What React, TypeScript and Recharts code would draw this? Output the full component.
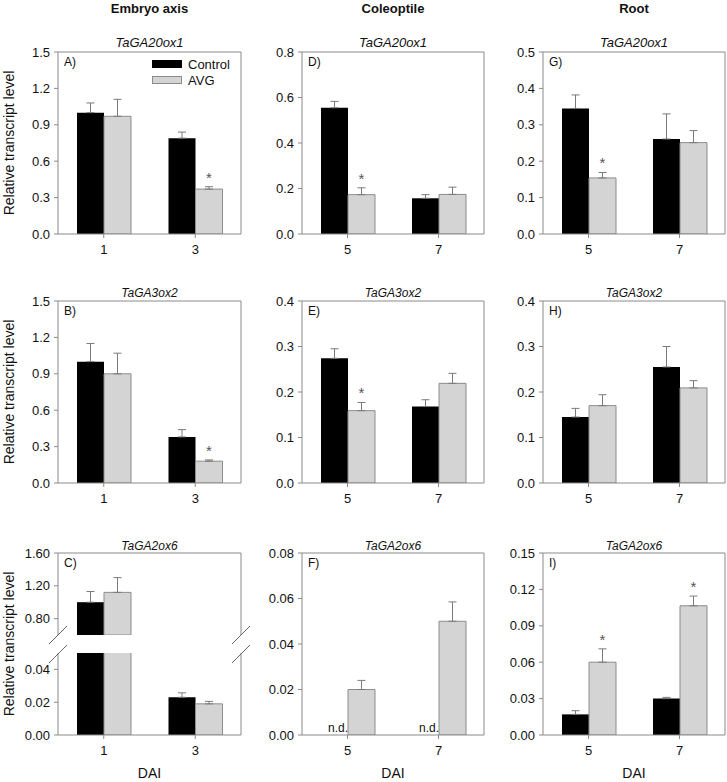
import React from "react";
import {
  Bar,
  BarChart,
  ErrorBar,
  LabelList,
  Legend,
  XAxis,
  YAxis,
} from "recharts";

const FONT = "'Liberation Sans', Arial, sans-serif";
const AXIS = "#8a8a8a";
const AVG_FILL = "#d4d4d4";
const AVG_STROKE = "#8c8c8c";
const ERR = "#7a7a7a";

// days after imbibition
const DAI_EMBRYO = ["1", "3"];
const DAI_SEEDLING = ["5", "7"];

// A) embryo axis - TaGA20ox1
const A_CONTROL = [1.0, 0.79];
const A_CONTROL_SE = [0.08, 0.05];
const A_AVG = [0.97, 0.37];
const A_AVG_SE = [0.14, 0.02];
const A_SIG = ["", "*"];

// B) embryo axis - TaGA3ox2
const B_CONTROL = [1.0, 0.38];
const B_CONTROL_SE = [0.15, 0.06];
const B_AVG = [0.9, 0.18];
const B_AVG_SE = [0.17, 0.01];
const B_SIG = ["", "*"];

// C) embryo axis - TaGA2ox6 (broken axis)
const C_CONTROL = [1.0, 0.023];
const C_CONTROL_SE = [0.13, 0.0027];
const C_AVG = [1.12, 0.019];
const C_AVG_SE = [0.18, 0.0015];
const C_SIG = ["", ""];

// D) coleoptile - TaGA20ox1
const D_CONTROL = [0.555, 0.157];
const D_CONTROL_SE = [0.028, 0.016];
const D_AVG = [0.173, 0.174];
const D_AVG_SE = [0.03, 0.032];
const D_SIG = ["*", ""];

// E) coleoptile - TaGA3ox2
const E_CONTROL = [0.274, 0.168];
const E_CONTROL_SE = [0.021, 0.015];
const E_AVG = [0.159, 0.219];
const E_AVG_SE = [0.018, 0.022];
const E_SIG = ["*", ""];

// F) coleoptile - TaGA2ox6 (control not detected)
const F_CONTROL = [0, 0];
const F_CONTROL_SE = [0, 0];
const F_AVG = [0.02, 0.05];
const F_AVG_SE = [0.004, 0.0085];
const F_SIG = ["", ""];
const F_ND = [true, true];

// G) root - TaGA20ox1
const G_CONTROL = [0.345, 0.261];
const G_CONTROL_SE = [0.037, 0.069];
const G_AVG = [0.154, 0.251];
const G_AVG_SE = [0.015, 0.033];
const G_SIG = ["*", ""];

// H) root - TaGA3ox2
const H_CONTROL = [0.145, 0.255];
const H_CONTROL_SE = [0.019, 0.045];
const H_AVG = [0.17, 0.209];
const H_AVG_SE = [0.024, 0.016];
const H_SIG = ["", ""];

// I) root - TaGA2ox6
const I_CONTROL = [0.017, 0.03];
const I_CONTROL_SE = [0.003, 0.001];
const I_AVG = [0.06, 0.1065];
const I_AVG_SE = [0.011, 0.008];
const I_SIG = ["*", "*"];

// y tick labels
const TICKS_EMBRYO = [0, 0.3, 0.6, 0.9, 1.2, 1.5];
const TICKS_C_HIGH = [0.8, 1.2, 1.6];
const TICKS_C_LOW = [0, 0.02, 0.04];
const TICKS_D = [0, 0.2, 0.4, 0.6, 0.8];
const TICKS_EH = [0, 0.1, 0.2, 0.3, 0.4];
const TICKS_F = [0, 0.02, 0.04, 0.06, 0.08];
const TICKS_G = [0, 0.1, 0.2, 0.3, 0.4, 0.5];
const TICKS_I = [0, 0.03, 0.06, 0.09, 0.12, 0.15];

const SERIES = ["Control", "AVG"];
const COLUMNS = ["Embryo axis", "Coleoptile", "Root"];
const GENES = ["TaGA20ox1", "TaGA3ox2", "TaGA2ox6"];
const LETTERS = [
  ["A)", "D)", "G)"],
  ["B)", "E)", "H)"],
  ["C)", "F)", "I)"],
];

// layout
const COL_LEFT = [58, 302, 543];
const COL_W = [183, 182, 182];
const ROW_TOP = [52, 301, 553];
const PLOT_H = 182;
const ML = 50;
const MT = 10;
const XH = 30;

const tickStyle = { fill: "#111", fontSize: 13, fontFamily: FONT };

function readBox(props: any) {
  const box = props.viewBox ?? props;
  return {
    x: Number(box.x ?? props.x),
    y: Number(box.y ?? props.y),
    w: Number(box.width ?? props.width),
    h: Number(box.height ?? props.height),
  };
}

function starLabel(rows: any[]) {
  return (props: any) => {
    const row = rows[props.index];
    if (!row || !row.sig || !row.avg) return null;
    const { x, y, w, h } = readBox(props);
    const se = row.avgSe ? row.avgSe[1] : 0;
    const top = y - (se * h) / row.avg;
    return (
      <text
        x={x + w / 2}
        y={top - 4}
        textAnchor="middle"
        fontSize={15}
        fill="#555"
        fontFamily={FONT}
      >
        {row.sig}
      </text>
    );
  };
}

// "n.d." sits at the foot of the missing control bar, right next to the AVG bar
function ndLabel(rows: any[]) {
  return (props: any) => {
    const row = rows[props.index];
    if (!row || !row.nd) return null;
    const { x, y, h } = readBox(props);
    return (
      <text
        x={x}
        y={y + h - 3}
        textAnchor="end"
        fontSize={12}
        fill="#111"
        fontFamily={FONT}
      >
        n.d.
      </text>
    );
  };
}

function legendContent({ payload }: any) {
  const items = [...(payload || [])].sort(
    (a: any, b: any) => SERIES.indexOf(a.value) - SERIES.indexOf(b.value)
  );
  return (
    <div style={{ fontFamily: FONT, fontSize: 13, color: "#111" }}>
      {items.map((e: any) => (
        <div
          key={e.value}
          style={{ display: "flex", alignItems: "center", height: 16 }}
        >
          <span
            style={{
              display: "inline-block",
              boxSizing: "border-box",
              width: 30,
              height: 8,
              background: e.color,
              border: e.value === "AVG" ? `1px solid ${AVG_STROKE}` : "none",
              marginRight: 6,
            }}
          />
          {e.value}
        </div>
      ))}
    </div>
  );
}

interface PanelProps {
  cats: string[];
  control: number[];
  controlSe: number[];
  avg: number[];
  avgSe: number[];
  sig: string[];
  nd?: boolean[];
  domain: [number, number];
  ticks: number[];
  decimals: number;
  left: number;
  top: number;
  width: number;
  height: number;
  showX?: boolean;
  frameTop?: boolean;
  legend?: boolean;
}

function Panel(p: PanelProps) {
  const [lo, hi] = p.domain;
  const inside = (v: number) => v >= lo && v <= hi;
  const rows = p.cats.map((day, i) => ({
    day,
    control: p.control[i] >= lo ? p.control[i] : null,
    avg: p.avg[i] >= lo ? p.avg[i] : null,
    controlSe:
      inside(p.control[i]) && p.controlSe[i] > 0 ? [0, p.controlSe[i]] : null,
    avgSe: inside(p.avg[i]) && p.avgSe[i] > 0 ? [0, p.avgSe[i]] : null,
    sig: p.sig[i],
    nd: p.nd ? p.nd[i] : false,
  }));

  const showX = p.showX !== false;
  const frameTop = p.frameTop !== false;
  const xh = showX ? XH : 0;

  return (
    <div style={{ position: "absolute", left: p.left - ML, top: p.top - MT }}>
      <BarChart
        width={ML + p.width + 6}
        height={MT + p.height + xh + (showX ? 0 : 2)}
        data={rows}
        margin={{ top: frameTop ? 0 : MT, right: 0, left: 0, bottom: showX ? 0 : 2 }}
        barGap={0}
        barSize={27}
      >
        <XAxis
          dataKey="day"
          height={xh}
          hide={!showX}
          interval={0}
          tickSize={4}
          tickMargin={7}
          stroke={AXIS}
          tick={tickStyle}
        />
        {frameTop && (
          <XAxis
            xAxisId="frame"
            orientation="top"
            dataKey="day"
            height={MT}
            tick={false}
            tickLine={false}
            axisLine={{ stroke: AXIS }}
          />
        )}
        <YAxis
          type="number"
          width={ML}
          domain={p.domain}
          ticks={p.ticks}
          interval={0}
          allowDataOverflow
          tickSize={4}
          tickMargin={4}
          stroke={AXIS}
          tick={tickStyle}
          tickFormatter={(v: number) => v.toFixed(p.decimals)}
        />
        <YAxis
          yAxisId="frame"
          orientation="right"
          width={6}
          domain={[0, 1]}
          tick={false}
          tickLine={false}
          axisLine={{ stroke: AXIS }}
        />
        {p.legend && (
          <Legend
            layout="vertical"
            align="center"
            verticalAlign="middle"
            wrapperStyle={{ left: 144, top: 14, width: "auto" }}
            content={legendContent}
          />
        )}
        <Bar
          dataKey="control"
          name="Control"
          fill="#000000"
          isAnimationActive={false}
        >
          <ErrorBar
            dataKey="controlSe"
            direction="y"
            width={4}
            stroke={ERR}
            strokeWidth={1}
          />
        </Bar>
        <Bar
          dataKey="avg"
          name="AVG"
          fill={AVG_FILL}
          stroke={AVG_STROKE}
          strokeWidth={1}
          isAnimationActive={false}
        >
          <ErrorBar
            dataKey="avgSe"
            direction="y"
            width={4}
            stroke={ERR}
            strokeWidth={1}
          />
          <LabelList dataKey="sig" content={starLabel(rows)} />
          {p.nd && <LabelList dataKey="nd" content={ndLabel(rows)} />}
        </Bar>
      </BarChart>
    </div>
  );
}

export default function App() {
  const breakY1 = 635;
  const breakY2 = 654;
  const slash = (cx: number, cy: number) => (
    <line
      key={`${cx}-${cy}`}
      x1={cx - 9}
      y1={cy + 9}
      x2={cx + 9}
      y2={cy - 9}
      stroke="#666"
      strokeWidth={1}
    />
  );

  return (
    <div
      style={{
        position: "absolute",
        left: 0,
        top: 0,
        width: 727,
        height: 782,
        background: "#fff",
      }}
    >
      {/* row 1 */}
      <Panel
        cats={DAI_EMBRYO}
        control={A_CONTROL}
        controlSe={A_CONTROL_SE}
        avg={A_AVG}
        avgSe={A_AVG_SE}
        sig={A_SIG}
        domain={[0, 1.5]}
        ticks={TICKS_EMBRYO}
        decimals={1}
        left={COL_LEFT[0]}
        top={ROW_TOP[0]}
        width={COL_W[0]}
        height={PLOT_H}
        legend
      />
      <Panel
        cats={DAI_SEEDLING}
        control={D_CONTROL}
        controlSe={D_CONTROL_SE}
        avg={D_AVG}
        avgSe={D_AVG_SE}
        sig={D_SIG}
        domain={[0, 0.8]}
        ticks={TICKS_D}
        decimals={1}
        left={COL_LEFT[1]}
        top={ROW_TOP[0]}
        width={COL_W[1]}
        height={PLOT_H}
      />
      <Panel
        cats={DAI_SEEDLING}
        control={G_CONTROL}
        controlSe={G_CONTROL_SE}
        avg={G_AVG}
        avgSe={G_AVG_SE}
        sig={G_SIG}
        domain={[0, 0.5]}
        ticks={TICKS_G}
        decimals={1}
        left={COL_LEFT[2]}
        top={ROW_TOP[0]}
        width={COL_W[2]}
        height={PLOT_H}
      />

      {/* row 2 */}
      <Panel
        cats={DAI_EMBRYO}
        control={B_CONTROL}
        controlSe={B_CONTROL_SE}
        avg={B_AVG}
        avgSe={B_AVG_SE}
        sig={B_SIG}
        domain={[0, 1.5]}
        ticks={TICKS_EMBRYO}
        decimals={1}
        left={COL_LEFT[0]}
        top={ROW_TOP[1]}
        width={COL_W[0]}
        height={PLOT_H}
      />
      <Panel
        cats={DAI_SEEDLING}
        control={E_CONTROL}
        controlSe={E_CONTROL_SE}
        avg={E_AVG}
        avgSe={E_AVG_SE}
        sig={E_SIG}
        domain={[0, 0.4]}
        ticks={TICKS_EH}
        decimals={1}
        left={COL_LEFT[1]}
        top={ROW_TOP[1]}
        width={COL_W[1]}
        height={PLOT_H}
      />
      <Panel
        cats={DAI_SEEDLING}
        control={H_CONTROL}
        controlSe={H_CONTROL_SE}
        avg={H_AVG}
        avgSe={H_AVG_SE}
        sig={H_SIG}
        domain={[0, 0.4]}
        ticks={TICKS_EH}
        decimals={1}
        left={COL_LEFT[2]}
        top={ROW_TOP[1]}
        width={COL_W[2]}
        height={PLOT_H}
      />

      {/* row 3: C is split into two segments */}
      <Panel
        cats={DAI_EMBRYO}
        control={C_CONTROL}
        controlSe={C_CONTROL_SE}
        avg={C_AVG}
        avgSe={C_AVG_SE}
        sig={C_SIG}
        domain={[0.6, 1.6]}
        ticks={TICKS_C_HIGH}
        decimals={2}
        left={COL_LEFT[0]}
        top={ROW_TOP[2]}
        width={COL_W[0]}
        height={breakY1 - ROW_TOP[2]}
        showX={false}
      />
      <Panel
        cats={DAI_EMBRYO}
        control={C_CONTROL}
        controlSe={C_CONTROL_SE}
        avg={C_AVG}
        avgSe={C_AVG_SE}
        sig={C_SIG}
        domain={[0, 0.05]}
        ticks={TICKS_C_LOW}
        decimals={2}
        left={COL_LEFT[0]}
        top={breakY2 - 1}
        width={COL_W[0]}
        height={ROW_TOP[2] + PLOT_H - breakY2 + 1}
        frameTop={false}
      />
      <Panel
        cats={DAI_SEEDLING}
        control={F_CONTROL}
        controlSe={F_CONTROL_SE}
        avg={F_AVG}
        avgSe={F_AVG_SE}
        sig={F_SIG}
        nd={F_ND}
        domain={[0, 0.08]}
        ticks={TICKS_F}
        decimals={2}
        left={COL_LEFT[1]}
        top={ROW_TOP[2]}
        width={COL_W[1]}
        height={PLOT_H}
      />
      <Panel
        cats={DAI_SEEDLING}
        control={I_CONTROL}
        controlSe={I_CONTROL_SE}
        avg={I_AVG}
        avgSe={I_AVG_SE}
        sig={I_SIG}
        domain={[0, 0.15]}
        ticks={TICKS_I}
        decimals={2}
        left={COL_LEFT[2]}
        top={ROW_TOP[2]}
        width={COL_W[2]}
        height={PLOT_H}
      />

      <svg
        width={727}
        height={782}
        style={{ position: "absolute", left: 0, top: 0, pointerEvents: "none" }}
        fontFamily={FONT}
      >
        {COLUMNS.map((c, ci) => (
          <text
            key={c}
            x={COL_LEFT[ci] + COL_W[ci] / 2}
            y={13}
            textAnchor="middle"
            fontSize={13}
            fontWeight="bold"
            fill="#111"
          >
            {c}
          </text>
        ))}
        {GENES.map((g, ri) =>
          COL_LEFT.map((l, ci) => (
            <text
              key={`${g}-${ci}`}
              x={l + COL_W[ci] / 2}
              y={[47, 297, 550][ri]}
              textAnchor="middle"
              fontSize={ri === 0 ? 13 : 12}
              fontStyle="italic"
              fill="#111"
            >
              {g}
            </text>
          ))
        )}
        {LETTERS.map((row, ri) =>
          row.map((t, ci) => (
            <text
              key={t}
              x={COL_LEFT[ci] + 6}
              y={ROW_TOP[ri] + 14}
              fontSize={12}
              fill="#111"
            >
              {t}
            </text>
          ))
        )}
        {ROW_TOP.map((t) => (
          <text
            key={`yl-${t}`}
            transform={`translate(13.5, ${t + PLOT_H / 2}) rotate(-90)`}
            textAnchor="middle"
            fontSize={14}
            fill="#111"
          >
            Relative transcript level
          </text>
        ))}
        {COL_LEFT.map((l, ci) => (
          <text
            key={`dai-${ci}`}
            x={l + COL_W[ci] / 2}
            y={778}
            textAnchor="middle"
            fontSize={14}
            fill="#111"
          >
            DAI
          </text>
        ))}
        {slash(COL_LEFT[0], breakY1)}
        {slash(COL_LEFT[0], breakY2)}
        {slash(COL_LEFT[0] + COL_W[0], breakY1)}
        {slash(COL_LEFT[0] + COL_W[0], breakY2)}
      </svg>
    </div>
  );
}
